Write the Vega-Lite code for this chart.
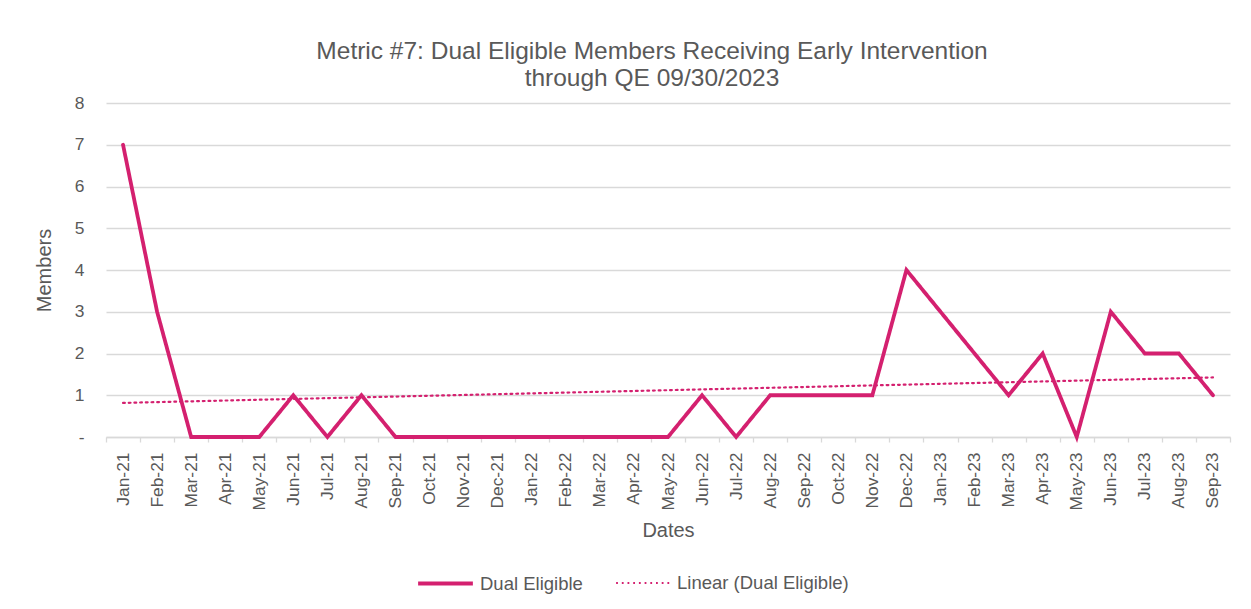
{
  "$schema": "https://vega.github.io/schema/vega-lite/v6.json",
  "width": 1124,
  "height": 334,
  "autosize": "none",
  "padding": {"left": 106, "top": 103, "right": 21, "bottom": 172},
  "background": "white",
  "config": {
    "view": {"stroke": null},
    "font": "Liberation Sans"
  },
  "title": {
    "text": ["Metric #7: Dual Eligible Members Receiving Early Intervention", "through QE 09/30/2023"],
    "font": "Liberation Sans",
    "fontSize": 24.5,
    "fontWeight": "normal",
    "color": "#595959",
    "lineHeight": 27,
    "anchor": "middle",
    "dx": -16,
    "offset": 3
  },
  "datasets": {
    "months": [
      {"idx": 1, "month": "Jan-21", "members": 7},
      {"idx": 2, "month": "Feb-21", "members": 3},
      {"idx": 3, "month": "Mar-21", "members": 0},
      {"idx": 4, "month": "Apr-21", "members": 0},
      {"idx": 5, "month": "May-21", "members": 0},
      {"idx": 6, "month": "Jun-21", "members": 1},
      {"idx": 7, "month": "Jul-21", "members": 0},
      {"idx": 8, "month": "Aug-21", "members": 1},
      {"idx": 9, "month": "Sep-21", "members": 0},
      {"idx": 10, "month": "Oct-21", "members": 0},
      {"idx": 11, "month": "Nov-21", "members": 0},
      {"idx": 12, "month": "Dec-21", "members": 0},
      {"idx": 13, "month": "Jan-22", "members": 0},
      {"idx": 14, "month": "Feb-22", "members": 0},
      {"idx": 15, "month": "Mar-22", "members": 0},
      {"idx": 16, "month": "Apr-22", "members": 0},
      {"idx": 17, "month": "May-22", "members": 0},
      {"idx": 18, "month": "Jun-22", "members": 1},
      {"idx": 19, "month": "Jul-22", "members": 0},
      {"idx": 20, "month": "Aug-22", "members": 1},
      {"idx": 21, "month": "Sep-22", "members": 1},
      {"idx": 22, "month": "Oct-22", "members": 1},
      {"idx": 23, "month": "Nov-22", "members": 1},
      {"idx": 24, "month": "Dec-22", "members": 4},
      {"idx": 25, "month": "Jan-23", "members": 3},
      {"idx": 26, "month": "Feb-23", "members": 2},
      {"idx": 27, "month": "Mar-23", "members": 1},
      {"idx": 28, "month": "Apr-23", "members": 2},
      {"idx": 29, "month": "May-23", "members": 0},
      {"idx": 30, "month": "Jun-23", "members": 3},
      {"idx": 31, "month": "Jul-23", "members": 2},
      {"idx": 32, "month": "Aug-23", "members": 2},
      {"idx": 33, "month": "Sep-23", "members": 1}
    ]
  },
  "data": {"name": "months"},
  "encoding": {
    "x": {
      "field": "month",
      "type": "ordinal",
      "sort": {"field": "idx"},
      "scale": {"paddingInner": 0, "paddingOuter": 0},
      "axis": {
        "title": "Dates",
        "titleFont": "Liberation Sans",
        "titleFontSize": 20,
        "titleFontWeight": "normal",
        "titleColor": "#595959",
        "titlePadding": 11,
        "labelAngle": -90,
        "labelAlign": "right",
        "labelBaseline": "middle",
        "labelFont": "Liberation Sans",
        "labelFontSize": 17.4,
        "labelColor": "#595959",
        "labelPadding": 10,
        "tickBand": "extent",
        "tickColor": "#d9d9d9",
        "tickSize": 5,
        "tickWidth": 1.3,
        "domainColor": "#d9d9d9",
        "domainWidth": 1.5,
        "grid": false
      }
    },
    "y": {
      "type": "quantitative",
      "scale": {"domain": [0, 8]},
      "axis": {
        "title": "Members",
        "titleFont": "Liberation Sans",
        "titleFontSize": 20,
        "titleFontWeight": "normal",
        "titleColor": "#595959",
        "titlePadding": 20,
        "values": [0, 1, 2, 3, 4, 5, 6, 7, 8],
        "labelExpr": "datum.value == 0 ? '-\u00a0\u00a0' : datum.label",
        "labelFont": "Liberation Sans",
        "labelFontSize": 17.4,
        "labelColor": "#595959",
        "labelPadding": 22,
        "ticks": false,
        "domain": false,
        "gridColor": "#d9d9d9",
        "gridWidth": 1.3
      }
    },
    "color": {
      "type": "nominal",
      "scale": {"domain": ["Dual Eligible", "Linear (Dual Eligible)"], "range": ["#d4206f", "#d4206f"]},
      "legend": {
        "title": null,
        "orient": "none",
        "direction": "horizontal",
        "legendX": 310,
        "legendY": 451,
        "symbolType": "stroke",
        "symbolSize": 3000,
        "labelFont": "Liberation Sans",
        "labelFontSize": 18.5,
        "labelColor": "#595959",
        "labelOffset": 5,
        "labelLimit": 400,
        "columnPadding": 28
      }
    },
    "strokeDash": {
      "type": "nominal",
      "scale": {"domain": ["Dual Eligible", "Linear (Dual Eligible)"], "range": [[1, 0], [1.8, 3.9]]},
      "legend": {
        "title": null,
        "orient": "none",
        "direction": "horizontal",
        "legendX": 310,
        "legendY": 451,
        "symbolType": "stroke",
        "symbolSize": 3000,
        "labelFont": "Liberation Sans",
        "labelFontSize": 18.5,
        "labelColor": "#595959",
        "labelOffset": 5,
        "labelLimit": 400,
        "columnPadding": 28
      }
    },
    "strokeWidth": {
      "type": "nominal",
      "scale": {"domain": ["Dual Eligible", "Linear (Dual Eligible)"], "range": [3.8, 2.2]},
      "legend": {
        "title": null,
        "orient": "none",
        "direction": "horizontal",
        "legendX": 310,
        "legendY": 451,
        "symbolType": "stroke",
        "symbolSize": 3000,
        "labelFont": "Liberation Sans",
        "labelFontSize": 18.5,
        "labelColor": "#595959",
        "labelOffset": 5,
        "labelLimit": 400,
        "columnPadding": 28
      }
    }
  },
  "layer": [
    {
      "transform": [
        {"regression": "members", "on": "idx", "method": "linear"},
        {"lookup": "idx", "from": {"data": {"name": "months"}, "key": "idx", "fields": ["month"]}}
      ],
      "mark": {"type": "line", "strokeCap": "round"},
      "encoding": {
        "y": {"field": "members", "type": "quantitative"},
        "color": {"datum": "Linear (Dual Eligible)"},
        "strokeDash": {"datum": "Linear (Dual Eligible)"},
        "strokeWidth": {"datum": "Linear (Dual Eligible)"}
      }
    },
    {
      "mark": {"type": "line", "strokeJoin": "miter", "strokeCap": "round"},
      "encoding": {
        "y": {"field": "members", "type": "quantitative"},
        "color": {"datum": "Dual Eligible"},
        "strokeDash": {"datum": "Dual Eligible"},
        "strokeWidth": {"datum": "Dual Eligible"}
      }
    }
  ]
}
